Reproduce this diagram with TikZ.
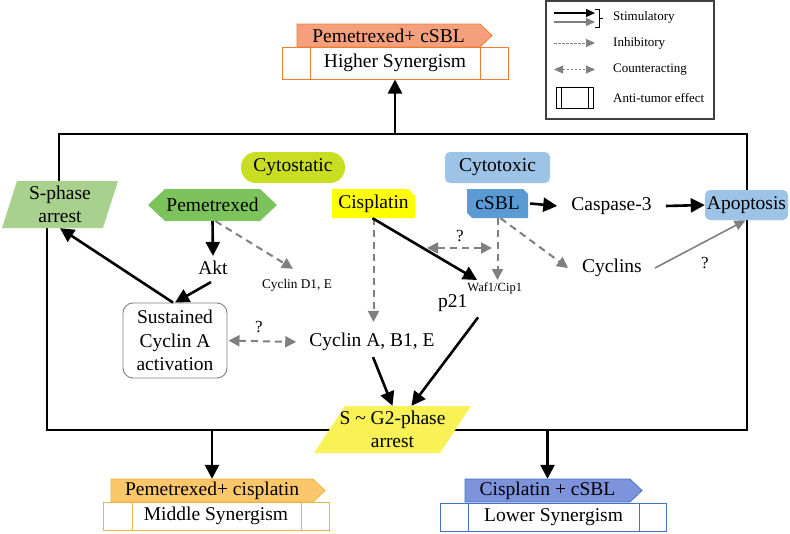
\documentclass[tikz,border=0pt]{standalone}
\usepackage{fontspec}
\setmainfont{Liberation Serif}
\usetikzlibrary{arrows.meta,calc}
\definecolor{salmon}{HTML}{F5A07C}
\definecolor{orangeb}{HTML}{ED7D31}
\definecolor{goldf}{HTML}{FCC76A}
\definecolor{goldb}{HTML}{F2B13C}
\definecolor{bluef}{HTML}{7D93DC}
\definecolor{blueb}{HTML}{4472C4}
\definecolor{sgreen}{HTML}{A9D18E}
\definecolor{pgreen}{HTML}{7DC35B}
\definecolor{cytost}{HTML}{C9DD22}
\definecolor{cisy}{HTML}{FFFF00}
\definecolor{sgy}{HTML}{F8F257}
\definecolor{csblb}{HTML}{5B9BD5}
\definecolor{lblue}{HTML}{9DC3E6}
\definecolor{grayarr}{HTML}{7F7F7F}
\begin{document}
\begin{tikzpicture}[x=1pt,y=-1pt,
  every node/.style={font=\fontsize{19.5}{23.5}\selectfont, inner sep=2pt, text=black, align=center},
  blk/.style={line width=2.6pt, -{Triangle[length=14pt,width=14pt]}},
  gdash/.style={draw=grayarr, line width=2pt, dash pattern=on 7pt off 5pt, -{Triangle[length=11pt,width=11pt]}},
  gdd/.style={draw=grayarr, line width=2pt, dash pattern=on 7pt off 5pt, {Triangle[length=11pt,width=11pt]}-{Triangle[length=11pt,width=11pt]}},
  gsolid/.style={draw=grayarr, line width=1.6pt, -{Triangle[length=11pt,width=10pt]}},
  small/.style={font=\fontsize{13.3}{15}\selectfont},
  qmark/.style={font=\fontsize{17}{19}\selectfont, inner sep=0pt},
  legtext/.style={font=\fontsize{13}{15}\selectfont, anchor=west, inner sep=0pt},
  synbox/.style={draw, line width=1pt, fill=white, minimum width=226, minimum height=28, inner sep=0pt},
  shapetext/.style={inner sep=0pt},
  roundbox/.style={rounded corners=5pt, inner sep=0pt}
]
\useasboundingbox (0,0) rectangle (790,533);

% ---------- frame ----------
\coordinate (ftl) at (59,134);
\coordinate (fbl) at (47,430);
\draw[line width=2.6pt, line join=miter] (59,181) -- (ftl) -- (747,134) -- (747,430) -- (fbl) -- (47,228);

% ---------- shape fills ----------
\fill[sgreen] (17,181) -- (118,181) -- (103,228) -- (2,228) -- cycle;
\fill[pgreen] (148,205) -- (165,189) -- (260,189) -- (277,205) -- (260,221) -- (165,221) -- cycle;
\fill[cisy] (332,189) -- (408,189) -- (415,196) -- (415,218) -- (332,218) -- cycle;
\fill[csblb] (467,189) -- (523,189) -- (528,194) -- (528,218) -- (472,218) -- (467,213) -- cycle;
\fill[sgy] (345,406) -- (471,406) -- (440,453) -- (314,453) -- cycle;

% tabs
\filldraw[fill=salmon, draw=orangeb, line width=0.8pt] (297,24) -- (480,24) -- (492,35.5) -- (480,47) -- (297,47) -- cycle;
\filldraw[fill=goldf, draw=goldb, line width=0.8pt] (111,479) -- (313,479) -- (325,490.5) -- (313,502) -- (111,502) -- cycle;
\filldraw[fill=bluef, draw=blueb, line width=0.8pt] (465,479) -- (630,479) -- (642,490.5) -- (630,502) -- (465,502) -- cycle;

% ---------- nodes ----------
\node[shapetext, minimum width=116, minimum height=47] (sphase) at (60,204.5) {S-phase\\arrest};
\node[fill=cytost, rounded corners=15pt, minimum width=104, minimum height=31, inner sep=0pt] (cytostatic) at (293,167.5) {Cytostatic};
\node[shapetext, minimum width=129, minimum height=32] (pem) at (212.5,205) {Pemetrexed};
\node (akt) at (213,268) {Akt};
\node[small] (cd1) at (297,285) {Cyclin D1, E};
\node[draw=grayarr, line width=0.9pt, fill=white, rounded corners=10pt, minimum width=104, minimum height=75, inner sep=0pt] (sus) at (175,340.5) {Sustained\\Cyclin A\\activation};
\node[shapetext, minimum width=83, minimum height=29] (cis) at (373.5,203.5) {Cisplatin};
\node[shapetext, minimum width=61, minimum height=29] (csbl) at (497.5,203.5) {cSBL};
\node[roundbox, fill=lblue, minimum width=105, minimum height=31] (cytotoxic) at (497.5,167.5) {Cytotoxic};
\node (casp) at (611.5,206) {Caspase-3};
\node[roundbox, fill=lblue, minimum width=83, minimum height=30] (apop) at (746.5,205) {Apoptosis};
\node (cyclins) at (612,268) {Cyclins};
\node[anchor=base west] (p21) at (436,307) {p21\raisebox{16pt}{\fontsize{12.5}{13}\selectfont Waf1/Cip1}};
\node (cyca) at (372,342) {Cyclin A, B1, E};
\node[shapetext, minimum width=126, minimum height=47] (sg2) at (392.5,429.5) {S \textasciitilde\ G2-phase\\arrest};

% tabs text and synergism boxes
\node[shapetext, minimum width=183, minimum height=23] (tabtop) at (388.5,35.5) {Pemetrexed+ cSBL};
\node[synbox, draw=orangeb, minimum height=32] (hsbox) at (395,63) {Higher Synergism};
\draw[orangeb, line width=1pt] (310,47) -- (310,79) (480,47) -- (480,79);

\node[shapetext, minimum width=202, minimum height=23] (tabml) at (212,490.5) {Pemetrexed+ cisplatin};
\node[synbox, draw=goldb] (msbox) at (216,516) {Middle Synergism};
\draw[goldb, line width=1pt] (132,502) -- (132,530) (301,502) -- (301,530);

\node[shapetext, minimum width=165, minimum height=23] (tablr) at (547.5,490.5) {Cisplatin + cSBL};
\node[synbox, draw=blueb] (lsbox) at (553.5,517) {Lower Synergism};
\draw[blueb, line width=1pt] (468,503) -- (468,531) (639,503) -- (639,531);

% ---------- connectors ----------
\draw[blk] (hsbox.south |- ftl) -- (hsbox.south);
\draw[blk] (tabml.north |- fbl) -- (tabml.north);
\draw[blk] (tablr.north |- fbl) -- (tablr.north);

\draw[blk] (pem.south) -- ([shift={(0,-3)}]akt.north);
\draw[gdash] ([xshift=3pt]pem.south) -- ([shift={(-4,-8)}]cd1.north);
\draw[blk] ([shift={(-2,5)}]akt.south) -- (sus.north);
\draw[blk] ([xshift=-2pt]sus.north) -- (sphase.south);
\draw[gdd] ([xshift=1pt]sus.east) -- ([xshift=-11pt]cyca.west);
\node[qmark] (q1) at (259,327) {?};

\draw[gdash] (cis.south) -- ([shift={(1.5,-9)}]cyca.north);
\draw[blk] ([xshift=-1pt]cis.south) -- ([xshift=-3pt]p21.north);
\draw[gdash] (csbl.south) -- (csbl.south |- p21.north);
\draw[gdash] ([xshift=3pt]csbl.south) -- ([xshift=-12pt]cyclins.west);
\coordinate (ca1) at (427,248);
\coordinate (ca2) at (492,248);
\draw[gdd] (ca1) -- (ca2);
\node[qmark] (q2) at (460,236) {?};

\draw[blk] ([xshift=2pt]csbl.east) -- ([xshift=-12pt]casp.west);
\draw[blk] ([xshift=12pt]casp.east) -- (apop.west);
\draw[gsolid] ([xshift=11pt]cyclins.east) -- ([xshift=-1pt]apop.south);
\node[qmark] (q3) at (705,263) {?};

\draw[blk] ([shift={(1,4)}]cyca.south) -- (sg2.north);
\draw[blk] ([shift={(-2,4)}]p21.south) -- ([xshift=19pt]sg2.north);

% ---------- legend ----------
\node[draw=black!75, line width=1.1pt, minimum width=168, minimum height=118, inner sep=0pt] (legend) at (630,60) {};
\coordinate (l1a) at (554,13); \coordinate (l1b) at (595,13);
\coordinate (l2a) at (554,22); \coordinate (l2b) at (595,22);
\draw[line width=1.4pt, -{Triangle[length=9pt,width=8pt]}] (l1a) -- (l1b);
\draw[grayarr, line width=1.4pt, -{Triangle[length=9pt,width=8pt]}] (l2a) -- (l2b);
\draw[line width=1pt] (595,9) -- (599,9) -- (599,27) -- (595,27) (599,18) -- (603,18);
\node[legtext] (lt1) at (613,17.5) {Stimulatory};
\coordinate (l3a) at (554,43); \coordinate (l3b) at (595,43);
\draw[grayarr, line width=0.9pt, dash pattern=on 2.5pt off 1.5pt, -{Triangle[length=9pt,width=8pt]}] (l3a) -- (l3b);
\node[legtext] (lt2) at (613,43) {Inhibitory};
\coordinate (l4a) at (554,69.5); \coordinate (l4b) at (595,69.5);
\draw[grayarr, line width=0.9pt, dash pattern=on 2.5pt off 1.5pt, {Triangle[length=9pt,width=8pt]}-{Triangle[length=9pt,width=8pt]}] (l4a) -- (l4b);
\node[legtext] (lt3) at (613,69.5) {Counteracting};
\node[draw, line width=1pt, minimum width=37, minimum height=21, inner sep=0pt] (lbox) at (574.5,97.5) {};
\draw[line width=1pt] (561,87) -- (561,108) (588,87) -- (588,108);
\node[legtext] (lt4) at (613,98) {Anti-tumor effect};
\end{tikzpicture}
\end{document}
